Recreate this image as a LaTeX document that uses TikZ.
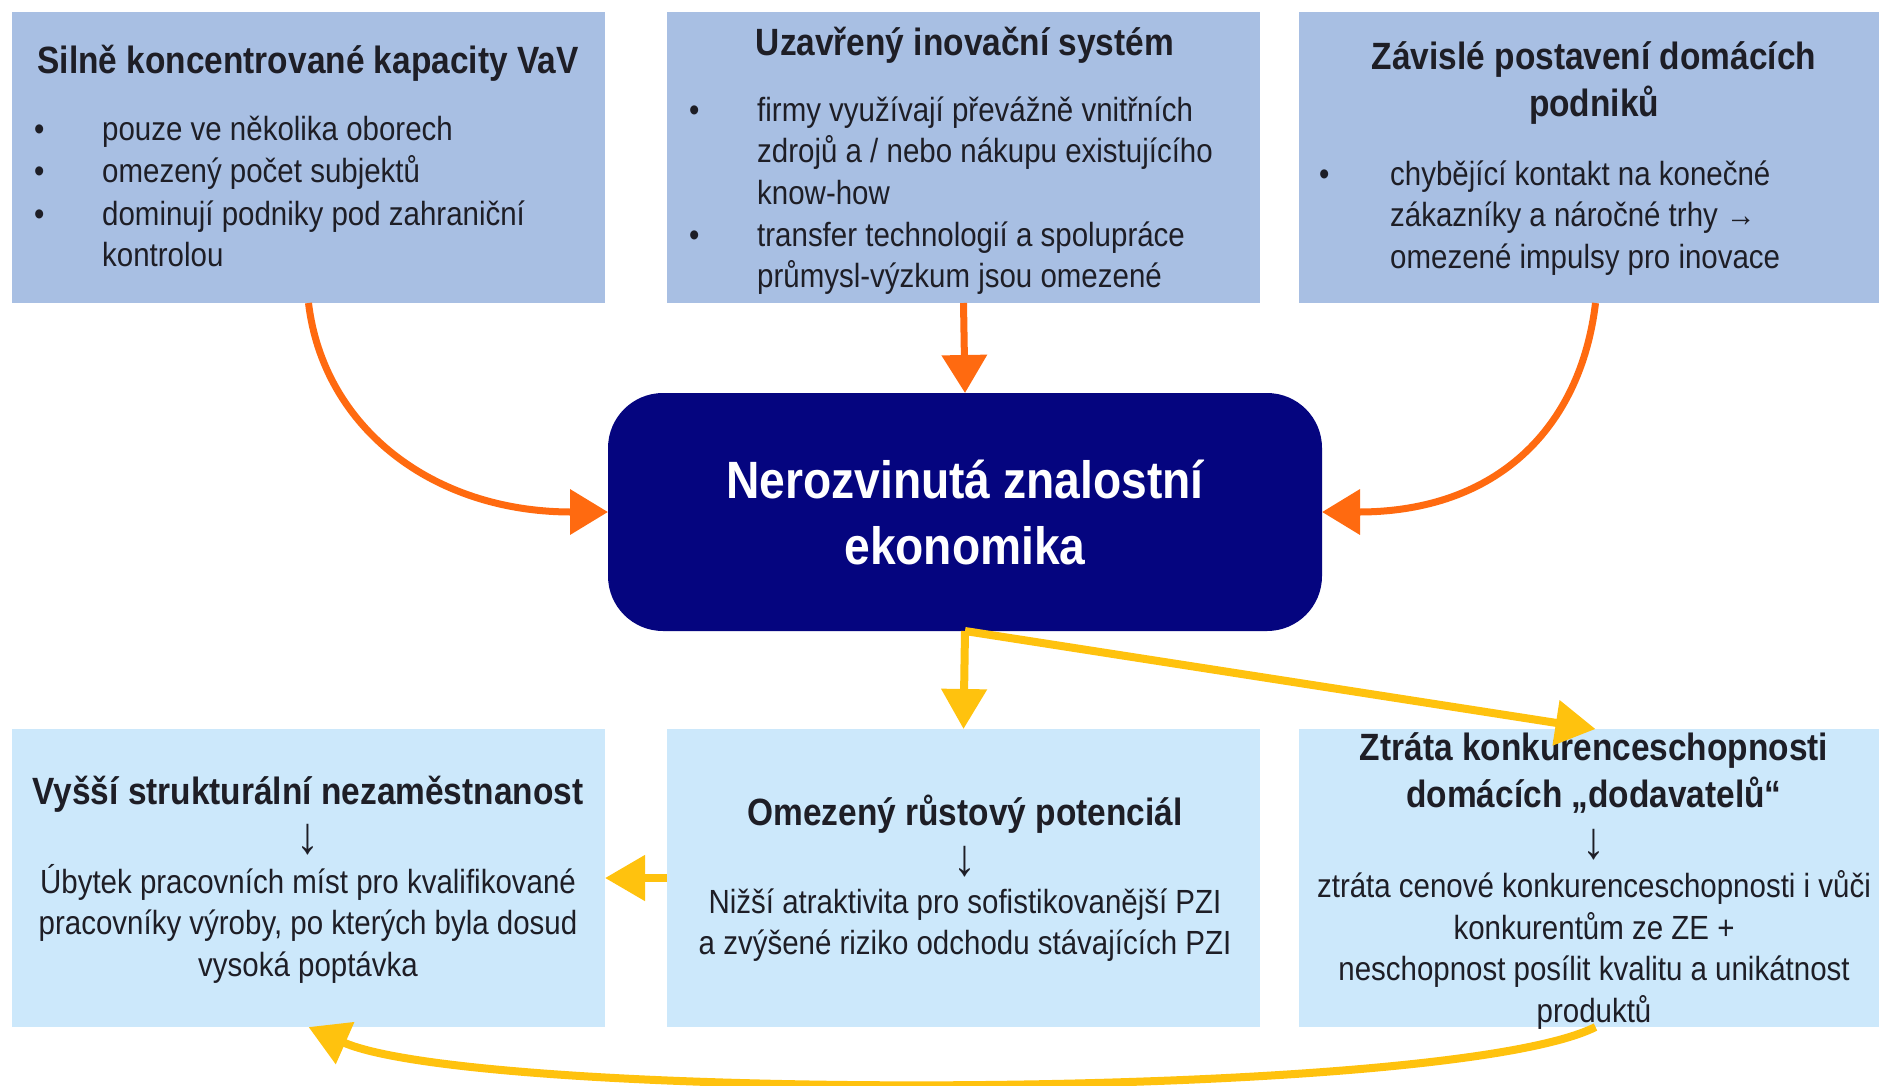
\documentclass[tikz,border=0pt]{standalone}
\usepackage{fontspec}
\setmainfont[FakeStretch=0.88]{Liberation Sans}
\usetikzlibrary{arrows.meta}
\definecolor{topfill}{HTML}{A8BFE3}
\definecolor{botfill}{HTML}{CCE8FB}
\definecolor{navyfill}{HTML}{05057F}
\definecolor{orng}{HTML}{FF6A10}
\definecolor{yel}{HTML}{FFC20E}
\definecolor{txt}{HTML}{1E1E26}
\tikzset{
  topbox/.style={fill=topfill, draw=none, inner sep=0pt, outer sep=0pt, minimum width=593pt, minimum height=291pt, anchor=north west},
  botbox/.style={fill=botfill, draw=none, inner sep=0pt, outer sep=0pt, minimum width=593pt, minimum height=298pt, anchor=north west},
  ecobox/.style={fill=navyfill, draw=none, rounded corners=55pt, inner sep=0pt, outer sep=0pt, minimum width=714pt, minimum height=238pt, text=white, align=center, font=\fontsize{52.5}{66}\selectfont\bfseries},
  ttl/.style={font=\fontsize{38}{47}\selectfont\bfseries, text=txt, align=center, inner sep=0pt, anchor=base},
  listtxt/.style={font=\fontsize{33.5}{41.5}\selectfont, text=txt, align=left, inner sep=0pt, anchor=base west},
  bul/.style={font=\fontsize{33.5}{41.5}\selectfont, text=txt, inner sep=0pt, anchor=base west},
  ctrtxt/.style={font=\fontsize{33.5}{41.5}\selectfont, text=txt, align=center, inner sep=0pt, anchor=base},
  downsym/.style={font=\fontsize{52}{52}\selectfont, text=txt, inner sep=0pt, anchor=center},
  orarrow/.style={draw=orng, line width=7pt, -{Triangle[length=38pt,width=44pt]}},
  yelarrow/.style={draw=yel, line width=8pt, -{Triangle[length=40pt,width=44pt]}}
}
\begin{document}
\begin{tikzpicture}[x=1pt,y=-1pt]
\useasboundingbox[fill=white] (0,0) rectangle (1879,1085);

% top boxes
\node[topbox] (b1) at (12,12) {};
\node[topbox] (b2) at (667,12) {};
\node[topbox] (b3) at (1299,12) {};
% centre
\node[ecobox] (eco) at (965,512) {Nerozvinutá znalostní\\ekonomika};
% bottom boxes
\node[botbox] (b4) at (12,729) {};
\node[botbox] (b5) at (667,729) {};
\node[botbox] (b6) at (1299,729) {};

% box 1 text (anchor base = baseline of last line)
\node[ttl] (t1) at (308,73) {Silně koncentrované kapacity VaV};
\node[bul] (d1a) at (34,140) {•};
\node[listtxt] (l1a) at (102,140) {pouze ve několika oborech};
\node[bul] (d1b) at (34,182) {•};
\node[listtxt] (l1b) at (102,182) {omezený počet subjektů};
\node[bul] (d1c) at (34,225) {•};
\node[listtxt] (l1c) at (102,266.5) {dominují podniky pod zahraniční\\kontrolou};

% box 2 text
\node[ttl] (t2) at (965,55) {Uzavřený inovační systém};
\node[bul] (d2a) at (689,121) {•};
\node[listtxt] (l2a) at (757,204) {firmy využívají převážně vnitřních\\zdrojů a / nebo nákupu existujícího\\know-how};
\node[bul] (d2b) at (689,246) {•};
\node[listtxt] (l2b) at (757,287.5) {transfer technologií a spolupráce\\průmysl-výzkum jsou omezené};

% box 3 text
\node[ttl] (t3) at (1594,116) {Závislé postavení domácích\\podniků};
\node[bul] (d3a) at (1319,185) {•};
\node[listtxt] (l3a) at (1390,268) {chybějící kontakt na konečné\\zákazníky a náročné trhy →\\omezené impulsy pro inovace};

% box 4 text
\node[ttl] (t4) at (308,804) {Vyšší strukturální nezaměstnanost};
\node[downsym] (a4) at (308,840) {↓};
\node[ctrtxt] (c4) at (308,976) {Úbytek pracovních míst pro kvalifikované\\pracovníky výroby, po kterých byla dosud\\vysoká poptávka};

% box 5 text
\node[ttl] (t5) at (965,825) {Omezený růstový potenciál};
\node[downsym] (a5) at (965,862) {↓};
\node[ctrtxt] (c5) at (965,954.5) {Nižší atraktivita pro sofistikovanější PZI\\a zvýšené riziko odchodu stávajících PZI};

% box 6 text
\node[ttl] (t6) at (1594,807) {Ztráta konkurenceschopnosti\\domácích „dodavatelů“};
\node[downsym] (a6) at (1594,845) {↓};
\node[ctrtxt] (c6) at (1594,1022) {ztráta cenové konkurenceschopnosti i vůči\\konkurentům ze ZE +\\neschopnost posílit kvalitu a unikátnost\\produktů};

% orange arrows
\draw[orarrow] (b1.south) .. controls +(15,125) and +(-175,0) .. (eco.west);
\draw[orarrow] (b2.south) -- (eco.north);
\draw[orarrow] (b3.south) .. controls +(-15,125) and +(175,0) .. (eco.east);

% yellow arrows
\draw[yelarrow] (eco.south) -- (b5.north);
\draw[yelarrow] (eco.south) -- (b6.north);
\draw[yelarrow] (b5.west) -- (b4.east);
\draw[yelarrow] (b6.south) .. controls +(-150,75) and +(170,75) .. (b4.south);
\end{tikzpicture}
\end{document}
